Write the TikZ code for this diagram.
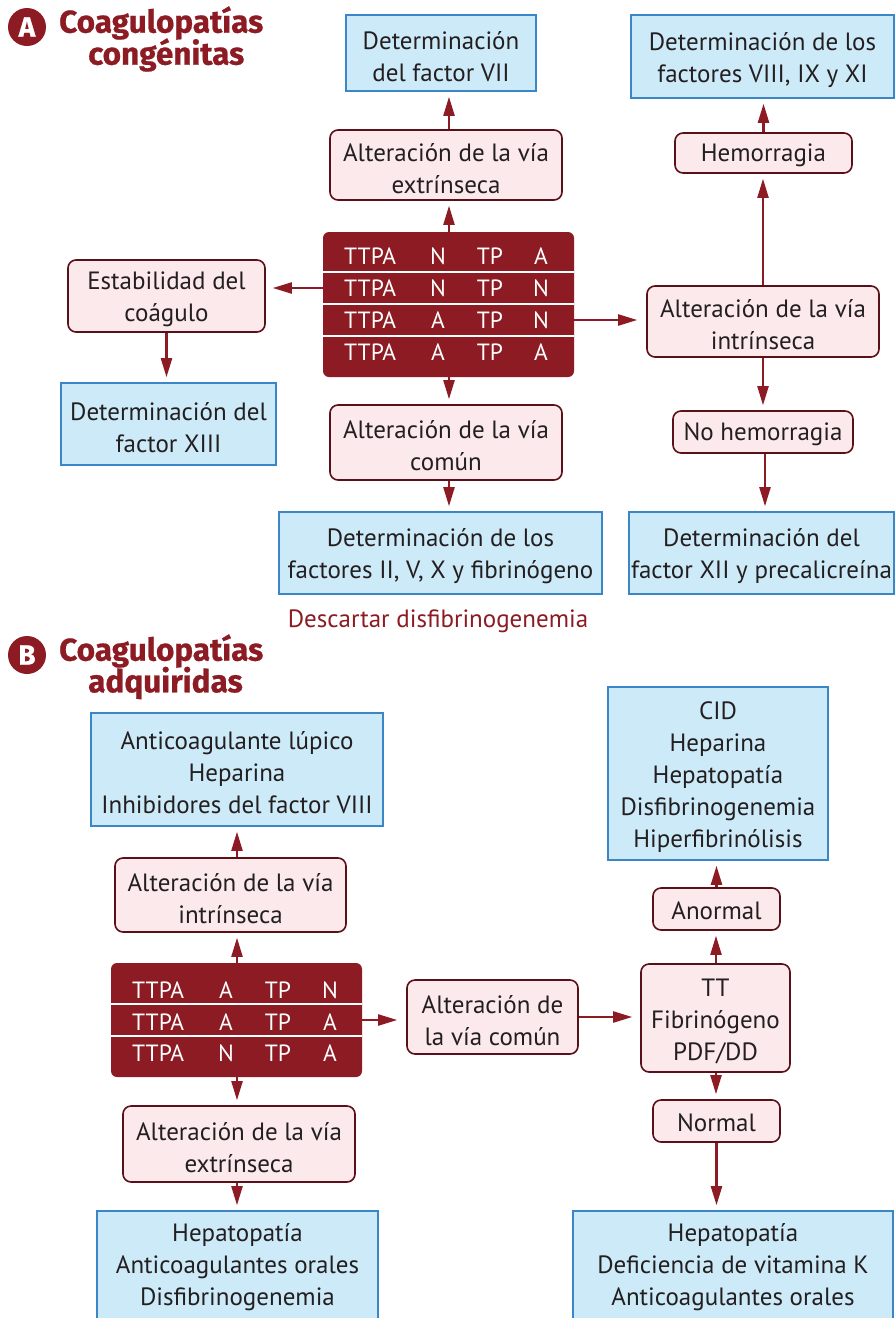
\documentclass[tikz,border=0pt]{standalone}
\usepackage{fontspec}
\setmainfont{PT Sans}
\newfontfamily\headfont{Fira Sans}[BoldFeatures={FakeBold=0.7}]
\usetikzlibrary{arrows.meta,calc}
\definecolor{dred}{HTML}{8C1B23}
\definecolor{pinkf}{HTML}{FCE9EB}
\definecolor{pinkd}{HTML}{5A1018}
\definecolor{bluef}{HTML}{CDEAF8}
\definecolor{blued}{HTML}{3A86C6}
\definecolor{txt}{HTML}{231F20}
\begin{document}
\begin{tikzpicture}[x=1pt,y=-1pt,
  every node/.style={font=\fontsize{25}{32}\selectfont, text=txt, inner sep=0pt},
  blu/.style={draw=blued, fill=bluef, line width=1.6pt, rectangle},
  pnk/.style={draw=pinkd, fill=pinkf, line width=1.6pt, rounded corners=8pt},
  tx/.style={label={[align=center, yshift=-3.5pt]center:{#1}}},
  tx1/.style={label={[align=center, yshift=-2pt]center:{#1}}},
  tbl/.style={fill=dred, rounded corners=6pt},
  cell/.style={text=white, font=\fontsize{23.5}{28}\selectfont},
  arr/.style={draw=dred, line width=2.2pt, -{Triangle[length=19pt,width=11pt]}, shorten >=5pt},
  farr/.style={arr, shorten >=9pt},
  ttl/.style={font=\headfont\bfseries\fontsize{31.5}{33}\selectfont, text=dred, align=left},
  circ/.style={circle, fill=dred, minimum size=38pt, text=white, font=\headfont\bfseries\fontsize{28}{28}\selectfont}
]
\useasboundingbox (0,0) rectangle (896,1318);
\fill[white] (0,0) rectangle (896,1318);

% ---------- A ----------
\node[circ] (cA) at (27,27) {A};
\node[ttl, anchor=west] (tAh1) at (59,23) {Coagulopatías};
\node[ttl, anchor=west] (tAh2) at (88,55) {congénitas};

\node[blu, minimum width=190pt, minimum height=76pt, tx={Determinación\\del factor VII}] (bVII) at (441,53) {};
\node[blu, minimum width=263pt, minimum height=83pt, tx={Determinación de los\\factores VIII, IX y XI}] (bVIII) at (762.5,56.5) {};
\node[pnk, minimum width=232pt, minimum height=70pt, tx={Alteración de la vía\\extrínseca}] (pExt) at (446,165) {};
\node[pnk, minimum width=177pt, minimum height=40pt, tx1={Hemorragia}] (pHem) at (763.5,153) {};

\node[tbl, minimum width=251pt, minimum height=145pt] (tA) at (448.5,304.5) {};
\draw[white, line width=2pt] (323,272) -- (574,272) (323,304) -- (574,304) (323,336) -- (574,336);
\foreach \r/\y/\a/\b in {1/256/N/A, 2/288/N/N, 3/320/A/N, 4/352/A/A}{
  \node[cell, anchor=west] (tA\r a) at (344,\y) {TTPA};
  \node[cell] (tA\r b) at (438,\y) {\a};
  \node[cell] (tA\r c) at (490,\y) {TP};
  \node[cell] (tA\r d) at (541,\y) {\b};
}

\node[pnk, minimum width=197pt, minimum height=72pt, tx={Estabilidad del\\coágulo}] (pEst) at (166.5,296) {};
\node[pnk, minimum width=232pt, minimum height=71pt, tx={Alteración de la vía\\intrínseca}] (pInt) at (763,321.5) {};
\node[blu, minimum width=215pt, minimum height=82pt, tx={Determinación del\\factor XIII}] (bXIII) at (168.5,424) {};
\node[pnk, minimum width=232pt, minimum height=75pt, tx={Alteración de la vía\\común}] (pCom) at (446,442.5) {};
\node[pnk, minimum width=180pt, minimum height=42pt, tx1={No hemorragia}] (pNoH) at (763,432) {};
\node[blu, minimum width=323pt, minimum height=82pt, tx={Determinación de los\\factores II, V, X y fibrinógeno}] (bII) at (440.5,553) {};
\node[blu, minimum width=265pt, minimum height=82pt, tx={Determinación del\\factor XII y precalicreína}] (bXII) at (761.5,553) {};
\node[text=dred] (desc) at (438,621) {Descartar disfibrinogenemia};

\draw[arr] (tA.north -| pExt.south) ++(3,0) coordinate (a1) -- (a1 |- pExt.south);
\draw[arr] (pExt.north) ++(3,0) coordinate (a2) -- (a2 |- bVII.south);
\draw[arr, shorten >=7pt] (tA2a -| tA.west) -- (tA2a -| pEst.east);
\draw[arr] (pEst.south) -- (pEst.south |- bXIII.north);
\draw[farr] (tA3d -| tA.east) -- (tA3d -| pInt.west);
\draw[arr] (pInt.north) -- (pInt.north |- pHem.south);
\draw[arr] (pHem.north) -- (pHem.north |- bVIII.south);
\draw[arr] (pInt.south) -- (pInt.south |- pNoH.north);
\draw[arr] (pNoH.south) ++(2,0) coordinate (a3) -- (a3 |- bXII.north);
\draw[arr] (tA.south) ++(0.5,0) coordinate (a4) -- (a4 |- pCom.north);
\draw[arr] (pCom.south) ++(3,0) coordinate (a5) -- (a5 |- bII.north);

% ---------- B ----------
\node[circ] (cB) at (27,655) {B};
\node[ttl, anchor=west] (tBh1) at (59,651) {Coagulopatías};
\node[ttl, anchor=west] (tBh2) at (88,683) {adquiridas};

\node[blu, minimum width=292pt, minimum height=113pt, tx={Anticoagulante lúpico\\Heparina\\Inhibidores del factor VIII}] (bLup) at (237,769.5) {};
\node[blu, minimum width=220pt, minimum height=173pt, tx={CID\\Heparina\\Hepatopatía\\Disfibrinogenemia\\Hiperfibrinólisis}] (bCID) at (718,773.5) {};
\node[pnk, minimum width=231pt, minimum height=74pt, tx={Alteración de la vía\\intrínseca}] (pIntB) at (230.5,895) {};
\node[pnk, minimum width=127pt, minimum height=42pt, tx1={Anormal}] (pAn) at (716.5,909) {};

\node[tbl, minimum width=251pt, minimum height=114pt] (tB) at (236.5,1020) {};
\draw[white, line width=2pt] (111,1004) -- (362,1004) (111,1036) -- (362,1036);
\foreach \r/\y/\a/\b in {1/990/A/N, 2/1022/A/A, 3/1053/N/A}{
  \node[cell, anchor=west] (tB\r a) at (132,\y) {TTPA};
  \node[cell] (tB\r b) at (226,\y) {\a};
  \node[cell] (tB\r c) at (278,\y) {TP};
  \node[cell] (tB\r d) at (330,\y) {\b};
}

\node[pnk, minimum width=171pt, minimum height=74pt, tx={Alteración de\\la vía común}] (pComB) at (492.5,1017) {};
\node[pnk, minimum width=149pt, minimum height=108pt, tx={TT\\Fibrinógeno\\PDF/DD}] (pTT) at (715.5,1018) {};
\node[pnk, minimum width=127pt, minimum height=42pt, tx1={Normal}] (pNo) at (716.5,1121) {};
\node[pnk, minimum width=232pt, minimum height=76pt, tx={Alteración de la vía\\extrínseca}] (pExtB) at (239,1144) {};
\node[blu, minimum width=281pt, minimum height=109pt, tx1={Hepatopatía\\Anticoagulantes orales\\Disfibrinogenemia}] (bHep1) at (237.5,1265.5) {};
\node[blu, minimum width=320pt, minimum height=109pt, tx1={Hepatopatía\\Deficiencia de vitamina K\\Anticoagulantes orales}] (bHep2) at (733,1265.5) {};

\draw[arr] (tB.north) ++(0.5,0) coordinate (b1) -- (b1 |- pIntB.south);
\draw[arr] (pIntB.north) ++(6.5,0) coordinate (b2) -- (b2 |- bLup.south);
\draw[farr] (tB2d -| tB.east) ++(0,-2) coordinate (b3) -- (b3 -| pComB.west);
\draw[farr, shorten >=8pt] (pComB.east) -- (pComB.east -| pTT.west);
\draw[arr] (pTT.north) ++(0.5,0) coordinate (b4) -- (b4 |- pAn.south);
\draw[arr] (pAn.north) -- (pAn.north |- bCID.south);
\draw[arr] (pTT.south) ++(0.5,0) coordinate (b5) -- (b5 |- pNo.north);
\draw[arr] (pNo.south) -- (pNo.south |- bHep2.north);
\draw[arr] (tB.south) ++(0.5,0) coordinate (b6) -- (b6 |- pExtB.north);
\draw[arr] (pExtB.south) ++(-2,0) coordinate (b7) -- (b7 |- bHep1.north);
\end{tikzpicture}
\end{document}
